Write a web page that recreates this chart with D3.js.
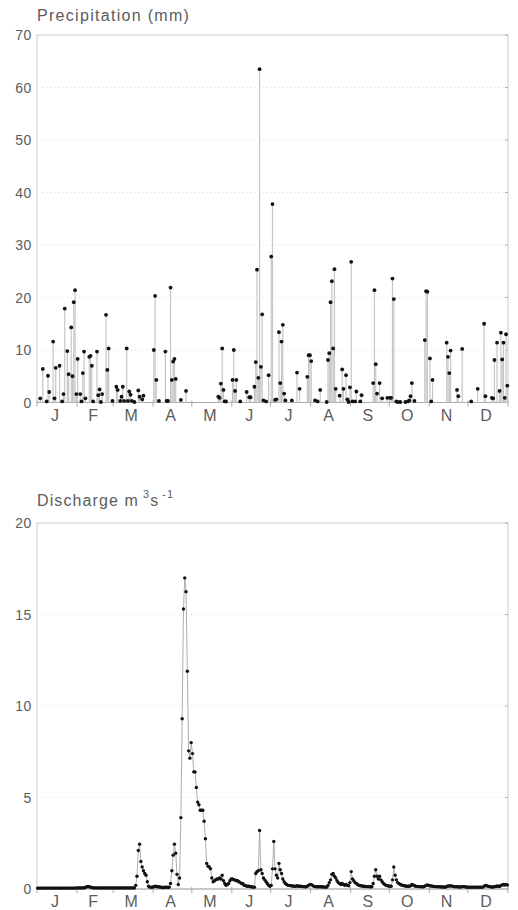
<!DOCTYPE html>
<html>
<head>
<meta charset="utf-8">
<script src="https://cdnjs.cloudflare.com/ajax/libs/d3/7.8.5/d3.min.js"></script>
<style>
  body { margin: 0; background: #fff; }
  text { font-family: "Liberation Sans", Arial, sans-serif; fill: #5c5c5c; }
</style>
</head>
<body>
<svg id="chart" width="518" height="910"></svg>
<script>
// ------- Data -------
const monthNames = ["J", "F", "M", "A", "M", "J", "J", "A", "S", "O", "N", "D"];
const monthStarts = [0, 31, 59, 90, 120, 151, 181, 212, 243, 273, 304, 334, 365];
const precipTicks = [0, 10, 20, 30, 40, 50, 60, 70];
const dischargeTicks = [0, 5, 10, 15, 20];

// daily precipitation, [day of year, mm]; dry days left out
const precipitation = [
  [3, 0.8], [5, 6.4], [8, 0.2], [9, 5.1], [10, 2.0], [13, 11.6], [14, 0.8], [15, 6.6],
  [18, 7.0], [20, 0.2], [21, 1.6], [22, 17.9], [24, 9.8], [25, 5.4], [27, 14.3], [28, 5.0],
  [29, 19.1], [30, 21.4], [31, 1.6], [32, 8.3], [34, 1.6], [35, 0.2], [36, 5.6], [37, 9.7],
  [38, 0.8], [41, 8.7], [42, 8.9], [43, 7.0], [44, 0.2], [47, 9.7], [48, 1.4], [49, 2.5],
  [50, 0.1], [51, 1.6], [54, 16.7], [55, 6.2], [56, 10.3], [59, 0.3], [62, 3.0], [63, 2.4],
  [65, 0.3], [66, 1.1], [67, 3.0], [68, 0.3], [70, 10.3], [71, 0.3], [72, 2.1], [73, 1.5],
  [74, 0.3], [76, 0.1], [79, 2.3], [80, 1.1], [82, 0.6], [83, 1.3], [91, 10.0], [92, 20.3],
  [93, 4.3], [95, 0.3], [100, 9.7], [101, 0.3], [102, 0.3], [104, 21.9], [105, 4.3], [106, 7.8],
  [107, 8.3], [108, 4.5], [112, 0.5], [116, 2.2], [141, 1.1], [142, 0.9], [143, 3.6], [144, 10.3],
  [145, 2.4], [146, 0.2], [147, 0.2], [152, 4.3], [153, 10.0], [154, 2.2], [155, 4.3], [158, 0.2],
  [163, 2.0], [165, 1.0], [166, 1.0], [169, 3.0], [170, 7.7], [171, 25.3], [172, 4.7], [173, 63.5],
  [174, 6.8], [175, 16.8], [176, 0.4], [178, 0.2], [180, 5.2], [182, 27.8], [183, 37.8], [185, 0.5],
  [186, 0.6], [188, 13.4], [189, 3.7], [190, 11.6], [191, 14.8], [192, 1.7], [193, 0.4], [198, 0.4],
  [202, 5.7], [204, 2.6], [210, 4.9], [211, 9.0], [212, 9.0], [213, 7.9], [216, 0.4], [218, 0.2],
  [220, 2.4], [225, 0.1], [226, 8.1], [227, 9.4], [228, 19.1], [229, 23.1], [230, 10.3], [231, 25.4],
  [232, 2.6], [235, 1.3], [237, 6.3], [238, 2.6], [240, 5.2], [241, 0.6], [242, 0.1], [243, 2.9],
  [244, 26.8], [245, 0.2], [247, 0.2], [248, 2.1], [251, 0.2], [252, 1.4], [261, 3.7], [262, 21.4],
  [263, 7.3], [264, 1.7], [266, 3.7], [268, 0.8], [272, 0.9], [274, 0.9], [275, 0.9], [276, 23.6],
  [277, 19.7], [279, 0.2], [280, 0.1], [282, 0.1], [286, 0.1], [288, 0.2], [289, 0.4], [290, 1.2],
  [291, 3.7], [293, 0.3], [301, 11.9], [302, 21.2], [303, 21.1], [305, 8.4], [306, 0.2], [307, 4.3],
  [318, 11.4], [319, 8.7], [320, 5.6], [321, 9.9], [326, 2.4], [327, 1.2], [330, 10.2], [337, 0.2],
  [342, 2.6], [347, 15.0], [348, 1.2], [353, 0.9], [354, 0.8], [355, 8.1], [357, 11.4], [359, 2.2],
  [360, 13.3], [361, 8.2], [362, 11.4], [363, 0.9], [364, 13.0], [365, 3.2]
];

// daily discharge (m3/s), day 1..365, one row per month
const discharge = [
  // Jan
  0.05, 0.05, 0.05, 0.05, 0.05, 0.05, 0.05, 0.05, 0.05, 0.05, 0.05, 0.05, 0.05, 0.05, 0.05, 0.05,
  0.05, 0.05, 0.05, 0.05, 0.05, 0.05, 0.05, 0.05, 0.05, 0.05, 0.05, 0.05, 0.05, 0.05, 0.06,
  // Feb
  0.06, 0.06, 0.06, 0.06, 0.06, 0.07, 0.08, 0.12, 0.14, 0.12, 0.10, 0.08, 0.07, 0.06,
  0.06, 0.06, 0.06, 0.06, 0.06, 0.06, 0.06, 0.06, 0.06, 0.06, 0.06, 0.06, 0.06, 0.06,
  // Mar
  0.06, 0.06, 0.06, 0.06, 0.06, 0.06, 0.06, 0.06, 0.06, 0.06, 0.06, 0.06, 0.06, 0.06, 0.06, 0.06,
  0.06, 0.2, 0.7, 2.1, 2.45, 1.5, 1.2, 1.0, 0.85, 0.75, 0.4, 0.15, 0.1, 0.1, 0.1,
  // Apr
  0.12, 0.15, 0.14, 0.12, 0.12, 0.1, 0.1, 0.08, 0.08, 0.1, 0.1, 0.08, 0.1, 0.3, 1.0,
  1.85, 2.45, 1.95, 0.8, 0.25, 0.6, 3.9, 9.3, 15.3, 17.0, 16.25, 11.9, 7.55, 7.15, 8.0,
  // May
  7.4, 6.4, 6.4, 5.55, 4.75, 4.6, 4.3, 4.3, 4.3, 3.7, 2.75, 1.4, 1.25, 1.2, 1.1, 0.6,
  0.4, 0.45, 0.5, 0.55, 0.55, 0.6, 0.55, 0.75, 0.45, 0.3, 0.2, 0.25, 0.3, 0.45, 0.55,
  // Jun
  0.55, 0.5, 0.5, 0.45, 0.45, 0.4, 0.35, 0.3, 0.3, 0.2, 0.2, 0.15, 0.15, 0.15, 0.12,
  0.12, 0.1, 0.1, 0.85, 0.95, 1.0, 3.2, 1.05, 0.85, 0.6, 0.5, 0.4, 0.3, 0.2, 0.15,
  // Jul
  0.2, 1.1, 2.6, 1.1, 0.75, 0.6, 1.4, 1.05, 0.85, 0.55, 0.4, 0.3, 0.25, 0.2, 0.2, 0.18,
  0.18, 0.15, 0.15, 0.15, 0.18, 0.15, 0.15, 0.15, 0.13, 0.13, 0.12, 0.12, 0.15, 0.2, 0.25,
  // Aug
  0.25, 0.2, 0.15, 0.13, 0.12, 0.12, 0.12, 0.12, 0.12, 0.11, 0.11, 0.1, 0.1, 0.2, 0.35, 0.5,
  0.8, 0.85, 0.7, 0.6, 0.45, 0.35, 0.3, 0.25, 0.3, 0.25, 0.2, 0.25, 0.2, 0.18, 0.35,
  // Sep
  0.95, 0.55, 0.45, 0.35, 0.3, 0.25, 0.2, 0.18, 0.18, 0.15, 0.15, 0.14, 0.13, 0.13, 0.12,
  0.12, 0.12, 0.3, 0.7, 1.05, 0.7, 0.55, 0.7, 0.5, 0.4, 0.3, 0.25, 0.2, 0.18, 0.16,
  // Oct
  0.15, 0.15, 0.5, 1.2, 0.75, 0.5, 0.35, 0.3, 0.25, 0.22, 0.2, 0.18, 0.16, 0.15, 0.15, 0.15,
  0.18, 0.25, 0.22, 0.18, 0.15, 0.14, 0.13, 0.13, 0.12, 0.12, 0.12, 0.15, 0.2, 0.22, 0.2,
  // Nov
  0.18, 0.16, 0.15, 0.14, 0.13, 0.13, 0.12, 0.12, 0.12, 0.11, 0.11, 0.11, 0.1, 0.14, 0.16,
  0.16, 0.17, 0.16, 0.14, 0.13, 0.12, 0.12, 0.12, 0.11, 0.11, 0.13, 0.13, 0.12, 0.11, 0.1,
  // Dec
  0.1, 0.1, 0.1, 0.1, 0.1, 0.1, 0.1, 0.1, 0.1, 0.1, 0.1, 0.1, 0.15, 0.2, 0.18, 0.15,
  0.13, 0.12, 0.11, 0.11, 0.13, 0.14, 0.16, 0.15, 0.14, 0.2, 0.22, 0.25, 0.22, 0.25, 0.22
];

// ------- Layout -------
const svg = d3.select("#chart");
const left = 37, right = 508;

const x = d3.scaleLinear().domain([0, 365]).range([left, right]);

function drawFrame(y, ticks, bottom, top) {
  let g = svg.append("g");

  // dotted grid lines
  g.selectAll(".grid")
    .data(ticks.slice(1, -1))
    .enter().append("line")
    .attr("x1", left + 6).attr("x2", right - 2)
    .attr("y1", d => y(d)).attr("y2", d => y(d))
    .attr("stroke", "#dadada")
    .attr("stroke-dasharray", "1,3");

  // frame
  g.append("rect")
    .attr("x", left).attr("y", top)
    .attr("width", right - left).attr("height", bottom - top)
    .attr("fill", "none")
    .attr("stroke", "#cacaca");

  g.append("line")
    .attr("x1", left).attr("x2", right)
    .attr("y1", bottom).attr("y2", bottom)
    .attr("stroke", "#aaaaaa");

  // right-hand ticks
  g.selectAll(".rtick")
    .data(ticks)
    .enter().append("line")
    .attr("x1", right - 3).attr("x2", right)
    .attr("y1", d => y(d)).attr("y2", d => y(d))
    .attr("stroke", "#b4b4b4");

  // y labels
  g.selectAll(".ylab")
    .data(ticks)
    .enter().append("text")
    .attr("x", 32)
    .attr("y", d => y(d) + 5)
    .attr("text-anchor", "end")
    .attr("font-size", 14)
    .attr("letter-spacing", 0.6)
    .text(d => d);

  // month boundary ticks
  g.selectAll(".mtick")
    .data(monthStarts)
    .enter().append("line")
    .attr("x1", d => x(d)).attr("x2", d => x(d))
    .attr("y1", bottom - 2).attr("y2", bottom + 4)
    .attr("stroke", "#a8a8a8");

  // month labels
  g.selectAll(".mlab")
    .data(monthNames)
    .enter().append("text")
    .attr("x", (d, i) => x((monthStarts[i] + monthStarts[i + 1]) / 2) - 2)
    .attr("y", bottom + 18)
    .attr("text-anchor", "middle")
    .attr("font-size", 16)
    .text(d => d);
}

// ------- Precipitation -------
const yP = d3.scaleLinear().domain([0, 70]).range([402.5, 35]);
drawFrame(yP, precipTicks, 402.5, 35);

svg.append("text")
  .attr("x", left).attr("y", 21)
  .attr("font-size", 16)
  .attr("letter-spacing", 1.3)
  .text("Precipitation (mm)");

svg.append("g").selectAll("line")
  .data(precipitation)
  .enter().append("line")
  .attr("x1", d => x(d[0] - 0.5)).attr("x2", d => x(d[0] - 0.5))
  .attr("y1", yP(0)).attr("y2", d => yP(d[1]))
  .attr("stroke", "#c6c6c6")
  .attr("stroke-width", 1.2);

svg.append("g").selectAll("circle")
  .data(precipitation)
  .enter().append("circle")
  .attr("cx", d => x(d[0] - 0.5))
  .attr("cy", d => yP(d[1]))
  .attr("r", 1.9)
  .attr("fill", "#111");

// ------- Discharge -------
const yQ = d3.scaleLinear().domain([0, 20]).range([889, 523]);
drawFrame(yQ, dischargeTicks, 889, 523);

let qTitle = svg.append("text")
  .attr("x", left).attr("y", 506)
  .attr("font-size", 16)
  .attr("letter-spacing", 1.1);
qTitle.append("tspan").text("Discharge m");
qTitle.append("tspan").attr("dx", 4).attr("dy", -8).attr("font-size", 11).text("3");
qTitle.append("tspan").attr("dy", 8).text("s");
qTitle.append("tspan").attr("dx", 3).attr("dy", -8).attr("font-size", 11).text("-1");

let qLine = d3.line()
  .x((d, i) => x(i + 0.5))
  .y(d => yQ(d));

svg.append("path")
  .datum(discharge)
  .attr("d", qLine)
  .attr("fill", "none")
  .attr("stroke", "#9a9a9a")
  .attr("stroke-width", 0.8);

svg.append("g").selectAll("circle")
  .data(discharge)
  .enter().append("circle")
  .attr("cx", (d, i) => x(i + 0.5))
  .attr("cy", d => yQ(d))
  .attr("r", 1.7)
  .attr("fill", "#111");
</script>
</body>
</html>
